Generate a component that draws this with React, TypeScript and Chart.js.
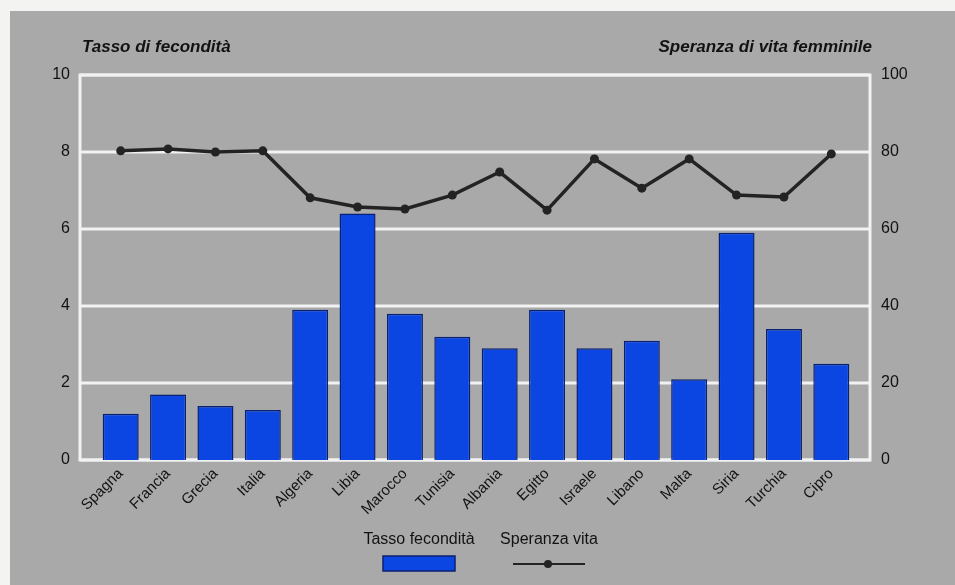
import { useEffect, useRef } from "react";
import { Chart, registerables } from "chart.js";

Chart.register(...registerables);

// Paesi del Mediterraneo
const countries = [
  "Spagna", "Francia", "Grecia", "Italia", "Algeria", "Libia", "Marocco", "Tunisia",
  "Albania", "Egitto", "Israele", "Libano", "Malta", "Siria", "Turchia", "Cipro",
];

// Tasso di fecondità (figli per donna) – asse sinistro
const fertility = [1.2, 1.7, 1.4, 1.3, 3.9, 6.4, 3.8, 3.2, 2.9, 3.9, 2.9, 3.1, 2.1, 5.9, 3.4, 2.5];

// Speranza di vita femminile (anni) – asse destro
const lifeExpectancy = [80.3, 80.8, 80.0, 80.3, 68.1, 65.7, 65.2, 68.8, 74.8, 64.9, 78.2, 70.6, 78.2, 68.8, 68.3, 79.5];

const leftTitle = "Tasso di fecondità";
const rightTitle = "Speranza di vita femminile";

const FONT = "'Liberation Sans', Arial, Helvetica, sans-serif";
const BAR_FILL = "#0b45e2";
const BAR_EDGE = "#0a2070";
const LINE_COLOR = "#232323";
const PAGE_GRAY = "#a9a9a9";
const GRID_WHITE = "#f2f2f2";

const decor = {
  id: "decor",
  beforeDraw(chart: any) {
    const { ctx, width, height } = chart;
    ctx.save();
    ctx.fillStyle = "#f3f3f1";
    ctx.fillRect(0, 0, width, height);
    ctx.fillStyle = PAGE_GRAY;
    ctx.fillRect(10, 11, width - 10, height - 11);
    ctx.restore();
  },
  beforeDatasetsDraw(chart: any) {
    const { ctx, chartArea, scales } = chart;
    const y = scales.yLeft;
    const left = chartArea.left - 17;
    const right = chartArea.right + 15;
    ctx.save();
    ctx.strokeStyle = GRID_WHITE;
    ctx.lineWidth = 3;
    y.ticks.forEach((t: any) => {
      const py = Math.round(y.getPixelForValue(t.value));
      ctx.beginPath();
      ctx.moveTo(left, py);
      ctx.lineTo(right, py);
      ctx.stroke();
    });
    ctx.strokeRect(left, chartArea.top, right - left, chartArea.bottom - chartArea.top);
    ctx.restore();
  },
  afterDraw(chart: any) {
    const { ctx, chartArea } = chart;
    ctx.save();
    // Titoli degli assi
    ctx.fillStyle = "#121212";
    ctx.font = `italic bold 17px ${FONT}`;
    ctx.textBaseline = "middle";
    ctx.textAlign = "left";
    ctx.fillText(leftTitle, chartArea.left - 15, 47);
    ctx.textAlign = "right";
    ctx.fillText(rightTitle, chartArea.right + 17, 47);

    // Legenda: etichetta sopra, simbolo sotto
    const bars = chart.data.datasets[1];
    const line = chart.data.datasets[0];
    ctx.font = `16px ${FONT}`;
    ctx.textAlign = "center";
    ctx.fillStyle = "#121212";
    ctx.fillText(bars.label, 419, 540);
    ctx.fillText(line.label, 549, 540);

    ctx.fillStyle = bars.backgroundColor;
    ctx.fillRect(383, 556, 72, 15);
    ctx.strokeStyle = bars.borderColor;
    ctx.lineWidth = 1.5;
    ctx.strokeRect(383, 556, 72, 15);

    ctx.strokeStyle = line.borderColor;
    ctx.lineWidth = 2;
    ctx.beginPath();
    ctx.moveTo(513, 564);
    ctx.lineTo(585, 564);
    ctx.stroke();
    ctx.fillStyle = line.borderColor;
    ctx.beginPath();
    ctx.arc(548, 564, 4, 0, Math.PI * 2);
    ctx.fill();
    ctx.restore();
  },
};

export default function App() {
  const ref = useRef<HTMLCanvasElement>(null);

  useEffect(() => {
    document.body.style.margin = "0";
    const canvas = ref.current;
    if (!canvas) return;
    const tickFont = { family: FONT, size: 16 };
    const chart = new Chart(canvas, {
      type: "bar",
      data: {
        labels: countries,
        datasets: [
          {
            type: "line",
            label: "Speranza vita",
            data: lifeExpectancy,
            yAxisID: "yRight",
            borderColor: LINE_COLOR,
            backgroundColor: LINE_COLOR,
            borderWidth: 3.5,
            pointRadius: 4.5,
            pointBackgroundColor: LINE_COLOR,
            pointBorderWidth: 0,
            tension: 0,
            order: 1,
          } as any,
          {
            type: "bar",
            label: "Tasso fecondità",
            data: fertility,
            yAxisID: "yLeft",
            backgroundColor: BAR_FILL,
            borderColor: BAR_EDGE,
            borderWidth: 1.5,
            categoryPercentage: 1,
            barPercentage: 0.76,
            order: 2,
          } as any,
        ],
      },
      options: {
        responsive: false,
        animation: false,
        devicePixelRatio: 1,
        layout: { padding: { top: 75, left: 0, right: 0, bottom: 0 } },
        plugins: {
          legend: { display: false },
          tooltip: { enabled: false },
        },
        scales: {
          x: {
            type: "category",
            offset: true,
            grid: { display: false, drawTicks: false },
            border: { display: false },
            ticks: {
              autoSkip: false,
              minRotation: 45,
              maxRotation: 45,
              padding: 5,
              color: "#121212",
              font: { family: FONT, size: 15 },
            },
            afterFit: (s: any) => {
              s.height = 125;
            },
          },
          yLeft: {
            type: "linear",
            position: "left",
            min: 0,
            max: 10,
            grid: { display: false, drawTicks: false },
            border: { display: false },
            ticks: { stepSize: 2, padding: 27, color: "#121212", font: tickFont },
            afterFit: (s: any) => {
              s.width = 97;
            },
          },
          yRight: {
            type: "linear",
            position: "right",
            min: 0,
            max: 100,
            grid: { display: false, drawTicks: false },
            border: { display: false },
            ticks: { stepSize: 20, padding: 26, color: "#121212", font: tickFont },
            afterFit: (s: any) => {
              s.width = 100;
            },
          },
        },
      },
      plugins: [decor],
    });
    return () => chart.destroy();
  }, []);

  return (
    <div style={{ width: 955, height: 585 }}>
      <canvas ref={ref} width={955} height={585} style={{ display: "block" }} />
    </div>
  );
}
